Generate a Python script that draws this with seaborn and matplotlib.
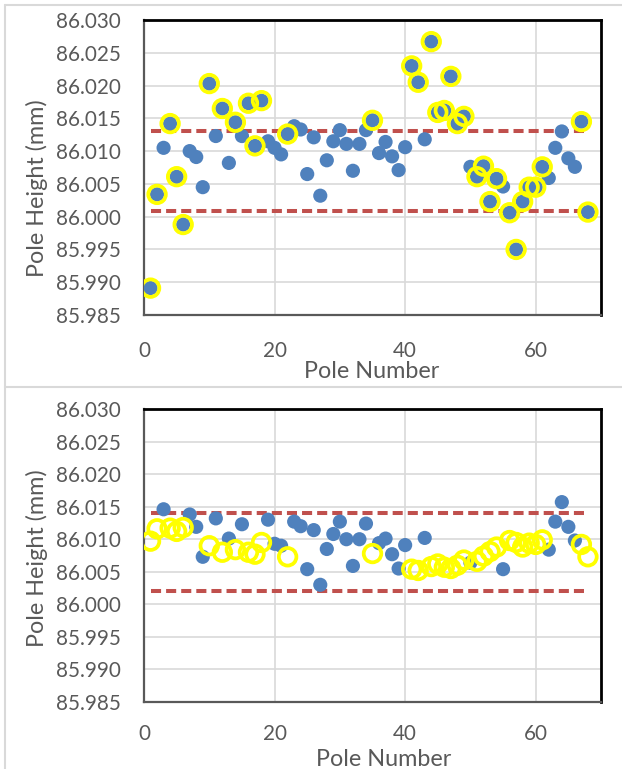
import numpy as np
import pandas as pd
import matplotlib
matplotlib.use("Agg")
import matplotlib.pyplot as plt
import seaborn as sns
from matplotlib.lines import Line2D

# ---------------- data ----------------
poles = list(range(1, 69))

before_height = [
    85.9891, 86.0034, 86.0105, 86.0142, 86.0061, 85.9988, 86.0100, 86.0091, 86.0045, 86.0203,
    86.0123, 86.0165, 86.0082, 86.0144, 86.0123, 86.0173, 86.0108, 86.0177, 86.0115, 86.0105,
    86.0095, 86.0126, 86.0138, 86.0133, 86.0065, 86.0121, 86.0032, 86.0086, 86.0115, 86.0132,
    86.0111, 86.0070, 86.0111, 86.0132, 86.0147, 86.0097, 86.0114, 86.0092, 86.0071, 86.0106,
    86.0230, 86.0205, 86.0118, 86.0267, 86.0159, 86.0162, 86.0214, 86.0142, 86.0153, 86.0076,
    86.0061, 86.0077, 86.0023, 86.0058, 86.0046, 86.0006, 85.9950, 86.0023, 86.0045, 86.0045,
    86.0076, 86.0059, 86.0105, 86.0130, 86.0089, 86.0076, 86.0145, 86.0007,
]

after_height = [
    86.0097, 86.0116, 86.0146, 86.0117, 86.0112, 86.0118, 86.0138, 86.0119, 86.0073, 86.0090,
    86.0132, 86.0080, 86.0101, 86.0084, 86.0123, 86.0080, 86.0077, 86.0095, 86.0130, 86.0093,
    86.0090, 86.0073, 86.0127, 86.0120, 86.0054, 86.0114, 86.0030, 86.0085, 86.0108, 86.0127,
    86.0100, 86.0059, 86.0100, 86.0124, 86.0078, 86.0094, 86.0101, 86.0077, 86.0055, 86.0091,
    86.0054, 86.0052, 86.0102, 86.0058, 86.0062, 86.0057, 86.0055, 86.0060, 86.0068, 86.0064,
    86.0066, 86.0074, 86.0081, 86.0088, 86.0054, 86.0098, 86.0095, 86.0088, 86.0094, 86.0092,
    86.0099, 86.0084, 86.0127, 86.0157, 86.0119, 86.0098, 86.0092, 86.0073,
]

adjusted_poles = [1, 2, 4, 5, 6, 10, 12, 14, 16, 17, 18, 22, 35, 41, 42, 44, 45, 46, 47,
                  48, 49, 51, 52, 53, 54, 56, 57, 58, 59, 60, 61, 67, 68]

before_limits = [86.0131, 86.0009]
after_limits = [86.0140, 86.0021]

x_ticks = [0, 20, 40, 60]
y_ticks = [85.985, 85.990, 85.995, 86.000, 86.005, 86.010, 86.015, 86.020, 86.025, 86.030]
y_tick_labels = ["85.985", "85.990", "85.995", "86.000", "86.005",
                 "86.010", "86.015", "86.020", "86.025", "86.030"]

x_label = "Pole Number"
y_label = "Pole Height (mm)"

# ---------------- tables ----------------
before_df = pd.DataFrame({"pole": poles, "height": before_height})
before_df["adjusted"] = before_df["pole"].isin(adjusted_poles)
after_df = pd.DataFrame({"pole": poles, "height": after_height})
after_df["adjusted"] = after_df["pole"].isin(adjusted_poles)

# ---------------- style ----------------
sns.set_theme(style="white")
plt.rcParams["font.family"] = ["Lato", "DejaVu Sans"]

W, H = 622, 769
fig = plt.figure(figsize=(W / 100, H / 100), dpi=100)
fig.patch.set_facecolor("white")

TEXT = "#595959"
BLUE = "#4F81BD"
YELLOW = "#FFFF00"
RED = "#C0504D"


def draw_panel(ax, blue_df, ring_df, limits, xlabel_xy, ylabel_xy, xpad):
    ax.set_facecolor("white")
    for lim in limits:
        sns.lineplot(x=[poles[0], poles[-1]], y=[lim, lim], ax=ax, color=RED,
                     linewidth=2.9, linestyle=(0, (2.5, 1.25)),
                     dash_capstyle="butt", zorder=2)
    sns.scatterplot(data=blue_df, x="pole", y="height", ax=ax, color=BLUE,
                    s=104, linewidth=0, edgecolor="none", zorder=3)
    sns.scatterplot(data=ring_df, x="pole", y="height", ax=ax,
                    s=160, facecolor="none", edgecolor=YELLOW,
                    linewidth=2.7, zorder=4)
    ax.collections[-1].set_facecolor("none")

    ax.set_xlim(0, 70)
    ax.set_ylim(85.985, 86.030)
    ax.set_xticks(x_ticks)
    ax.set_xticklabels([str(t) for t in x_ticks])
    ax.set_yticks(y_ticks)
    ax.set_yticklabels(y_tick_labels)
    ax.grid(True, color="#D9D9D9", linewidth=1.2)
    ax.set_axisbelow(True)
    ax.tick_params(axis="both", length=0, labelsize=14.9, colors=TEXT)
    ax.tick_params(axis="y", pad=17)
    ax.tick_params(axis="x", pad=xpad)

    ax.set_xlabel(x_label, fontsize=16.8, color=TEXT)
    ax.set_ylabel(y_label, fontsize=16.8, color=TEXT)
    ax.xaxis.label.set_va("center")
    ax.yaxis.label.set_va("center")
    ax.xaxis.set_label_coords(*xlabel_xy)
    ax.yaxis.set_label_coords(*ylabel_xy)

    for side in ["top", "right"]:
        ax.spines[side].set_color("black")
        ax.spines[side].set_linewidth(2.0)
    for side in ["left", "bottom"]:
        ax.spines[side].set_color("#595959")
        ax.spines[side].set_linewidth(1.6)


L, R = 144, 601
ax1 = fig.add_axes([L / W, 1 - 315 / H, (R - L) / W, (315 - 20) / H])
ax2 = fig.add_axes([L / W, 1 - 702 / H, (R - L) / W, (702 - 409) / H])

draw_panel(ax1, before_df, before_df[before_df["adjusted"]], before_limits,
           (0.499, -0.19), (-0.234, 0.43), 19)
draw_panel(ax2, after_df[~after_df["adjusted"]], after_df[after_df["adjusted"]], after_limits,
           (0.525, -0.197), (-0.234, 0.49), 16)

# chart-area borders (Excel style)
border = "#D9D9D9"
fig.add_artist(Line2D([5 / W, 5 / W], [0, 1 - 5 / H], transform=fig.transFigure,
                      color=border, linewidth=1.5))
fig.add_artist(Line2D([5 / W, 1], [1 - 5 / H, 1 - 5 / H], transform=fig.transFigure,
                      color=border, linewidth=1.5))
fig.add_artist(Line2D([5 / W, 1], [1 - 387 / H, 1 - 387 / H], transform=fig.transFigure,
                      color=border, linewidth=1.5))

fig.savefig("out.png", dpi=100, facecolor="white")
